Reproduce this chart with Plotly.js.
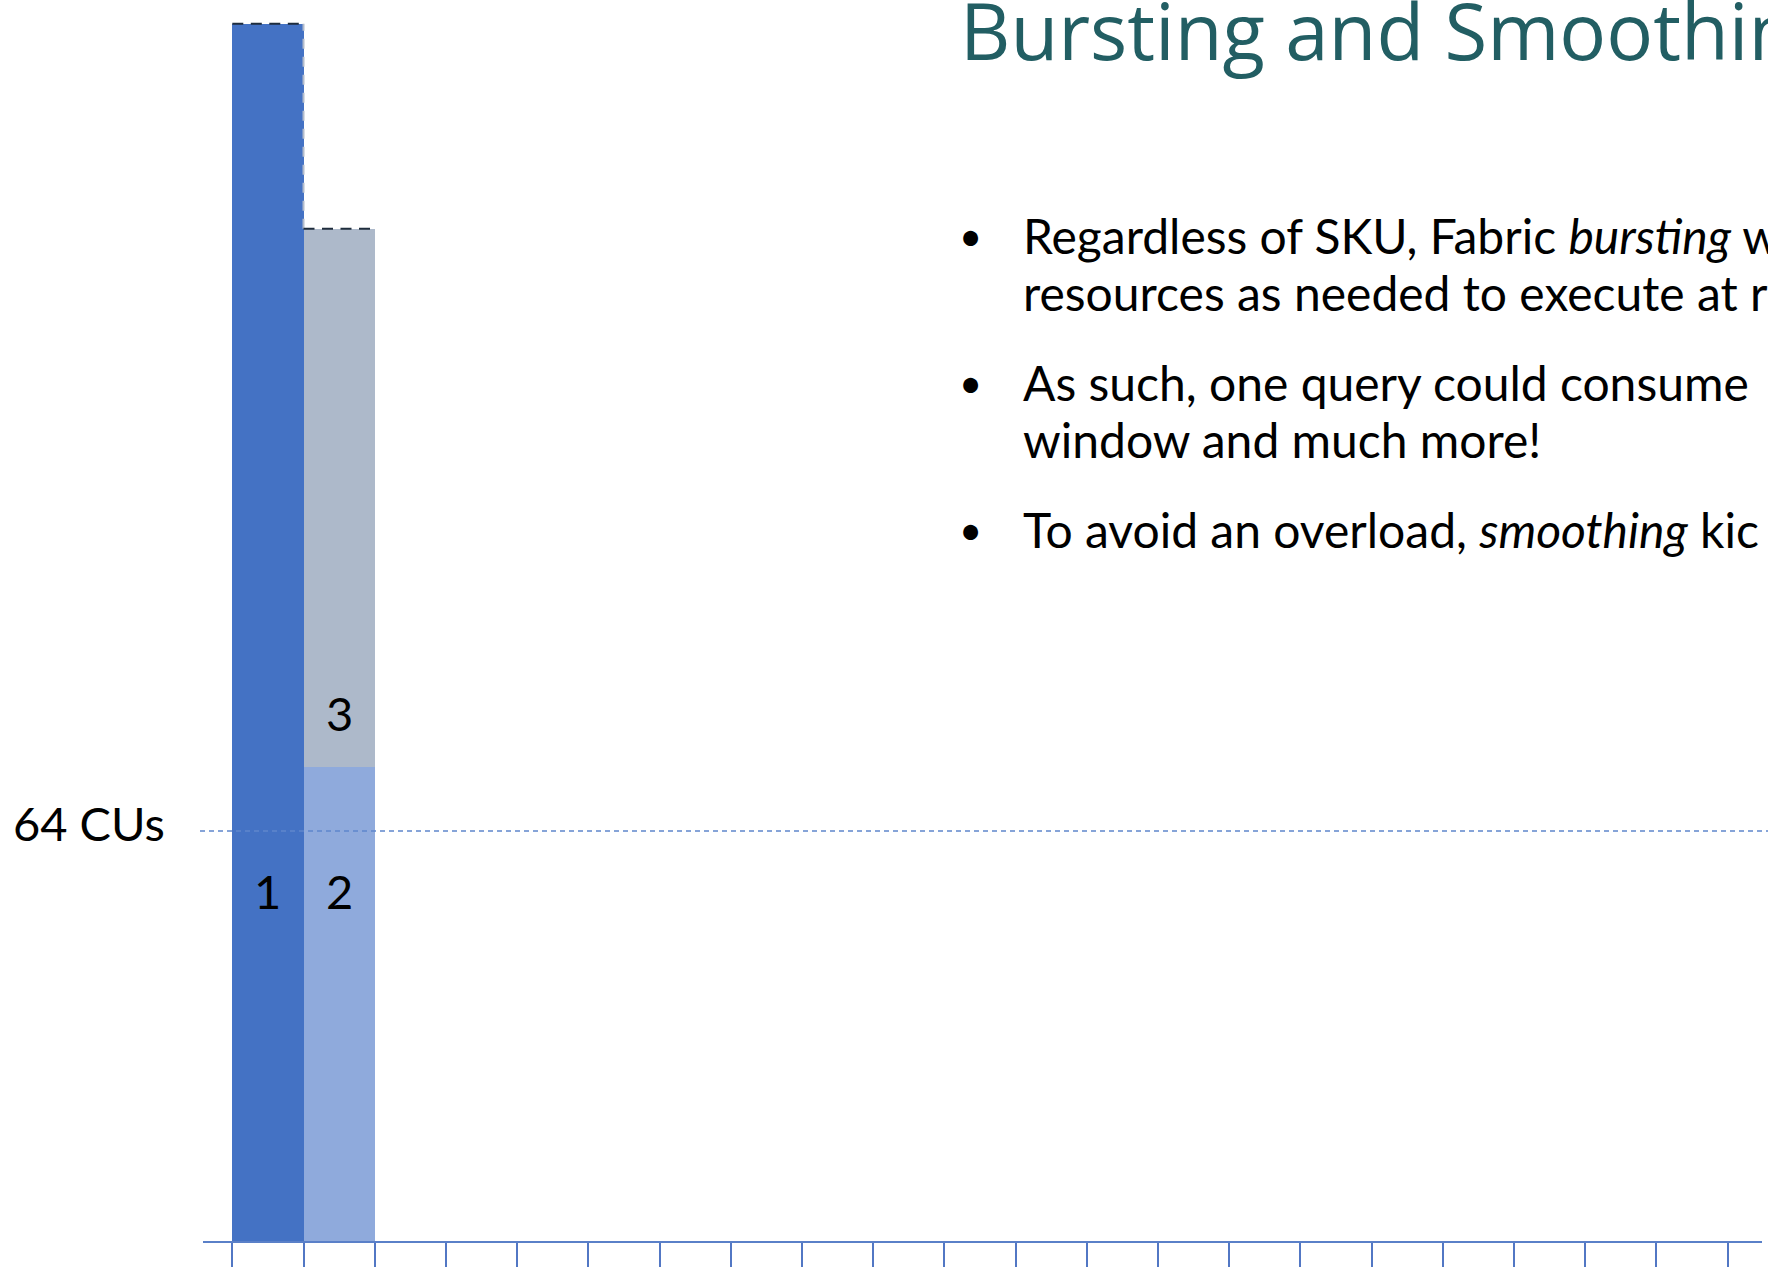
<!DOCTYPE html>
<html>
<head>
<meta charset="utf-8">
<script src="https://cdn.plot.ly/plotly-3.0.1.min.js"></script>
<style>
  html, body { margin: 0; padding: 0; background: #ffffff; overflow: hidden; }
  #chart { width: 1768px; height: 1268px; }
</style>
</head>
<body>
<div id="chart"></div>
<script>
// ---- data ----
const barPositions = [0.5, 1.5];          // time slots
const query1Values = [190, 0];            // CUs used by query 1
const query2Values = [0, 74];             // CUs used by query 2
const query3Values = [0, 84];             // CUs used by query 3
const barLabels = ["1", "2", "3"];
const capacityCUs = 64;
const capacityLabel = "64 CUs";
const slotTicks = [0,1,2,3,4,5,6,7,8,9,10,11,12,13,14,15,16,17,18,19,20,21];
const titleText = "Bursting and Smoothing";
const bulletLines = [
  ["Regardless of SKU, Fabric <i>bursting</i> w", "resources as needed to execute at r"],
  ["As such, one query could consume", "window and much more!"],
  ["To avoid an overload, <i>smoothing</i> kic"]
];

// ---- page geometry helpers ----
const W = 1768, H = 1268;
const px = v => v / W;
const py = v => 1 - v / H;

const blue = "#4472c4", lightBlue = "#8faadc", grey = "#adb9ca";
const FONT = "Lato, 'Segoe UI', sans-serif";
const TITLE_FONT = "'Open Sans', 'Segoe UI', sans-serif";

const slot2Total = query2Values[1] + query3Values[1];

const traces = [
  { type: "bar", x: barPositions, y: query1Values, width: 1, marker: { color: blue, line: { width: 0 } }, hoverinfo: "skip" },
  { type: "bar", x: barPositions, y: query2Values, width: 1, marker: { color: lightBlue, line: { width: 0 } }, hoverinfo: "skip" },
  { type: "bar", x: barPositions, y: query3Values, width: 1, marker: { color: grey, line: { width: 0 } }, hoverinfo: "skip" },
  // dashed outline of the burst peaks
  { type: "scatter", mode: "lines", x: [1, 1], y: [slot2Total, query1Values[0]],
    line: { color: "#b3bccb", width: 2, dash: "10px,8px" }, hoverinfo: "skip" },
  { type: "scatter", mode: "lines", x: [0, 1], y: [query1Values[0], query1Values[0]],
    line: { color: "#1f2d3d", width: 2, dash: "11px,7.5px" }, hoverinfo: "skip" },
  { type: "scatter", mode: "lines", x: [1, 2], y: [slot2Total, slot2Total],
    line: { color: "#1f2d3d", width: 2, dash: "11px,7.5px" }, hoverinfo: "skip" }
];

const annotations = [];
const labelFont = { family: FONT, size: 47, color: "#000" };
// bar labels
annotations.push({ xref: "x", yref: "y", x: barPositions[0], y: 54, yshift: 4, text: barLabels[0], showarrow: false,
  font: labelFont, xanchor: "center", yanchor: "middle" });
annotations.push({ xref: "x", yref: "y", x: barPositions[1], y: 54, yshift: 4, text: barLabels[1], showarrow: false,
  font: labelFont, xanchor: "center", yanchor: "middle" });
annotations.push({ xref: "x", yref: "y", x: barPositions[1], y: 82, yshift: 3, text: barLabels[2], showarrow: false,
  font: labelFont, xanchor: "center", yanchor: "middle" });
// capacity label
annotations.push({ xref: "paper", yref: "y", x: px(167), y: capacityCUs, yshift: 8, text: capacityLabel, showarrow: false,
  font: labelFont, xanchor: "right", yanchor: "middle" });
// title
annotations.push({ xref: "paper", yref: "paper", x: px(958), y: py(30), text: titleText, showarrow: false,
  font: { family: TITLE_FONT, size: 78, color: "#225e63", weight: 400 }, xanchor: "left", yanchor: "middle" });
// bullets
const bulletTops = [235.5, 382.5, 529.5];
const lineGap = 57;
bulletLines.forEach((lines, i) => {
  annotations.push({ xref: "paper", yref: "paper", x: px(970), y: py(bulletTops[i]), text: "•", showarrow: false,
    font: { family: FONT, size: 40, color: "#000" }, xanchor: "center", yanchor: "middle" });
  lines.forEach((t, j) => {
    annotations.push({ xref: "paper", yref: "paper", x: px(1021), y: py(bulletTops[i] + j * lineGap), text: t, showarrow: false,
      font: { family: FONT, size: 48, color: "#000" }, xanchor: "left", yanchor: "middle" });
  });
});

const xDomainL = 203 / W, xDomainR = 1762 / W;
const unit = 71.2, x0px = 232.3;
const layout = {
  width: W, height: H,
  margin: { l: 0, r: 0, t: 0, b: 0, pad: 0 },
  paper_bgcolor: "#ffffff", plot_bgcolor: "rgba(0,0,0,0)",
  showlegend: false, barmode: "stack", bargap: 0,
  xaxis: {
    domain: [xDomainL, xDomainR],
    range: [(203 - x0px) / unit, (1762 - x0px) / unit],
    tickmode: "array", tickvals: slotTicks, showticklabels: false,
    ticks: "outside", ticklen: 24, tickwidth: 2, tickcolor: "#5277c4",
    showline: true, linecolor: "#5a80c8", linewidth: 2,
    showgrid: false, zeroline: false, fixedrange: true
  },
  yaxis: {
    domain: [1 - 1241 / H, 1],
    range: [0, 1241 / 6.406],
    visible: false, showgrid: false, zeroline: false, fixedrange: true
  },
  shapes: [
    { type: "line", xref: "paper", yref: "y", x0: px(200), x1: 1, y0: capacityCUs, y1: capacityCUs,
      line: { color: "#5f86cc", width: 1.5, dash: "5px,4px" }, layer: "above" }
  ],
  annotations: annotations
};

Plotly.newPlot("chart", traces, layout, { displayModeBar: false, staticPlot: true });
</script>
</body>
</html>
